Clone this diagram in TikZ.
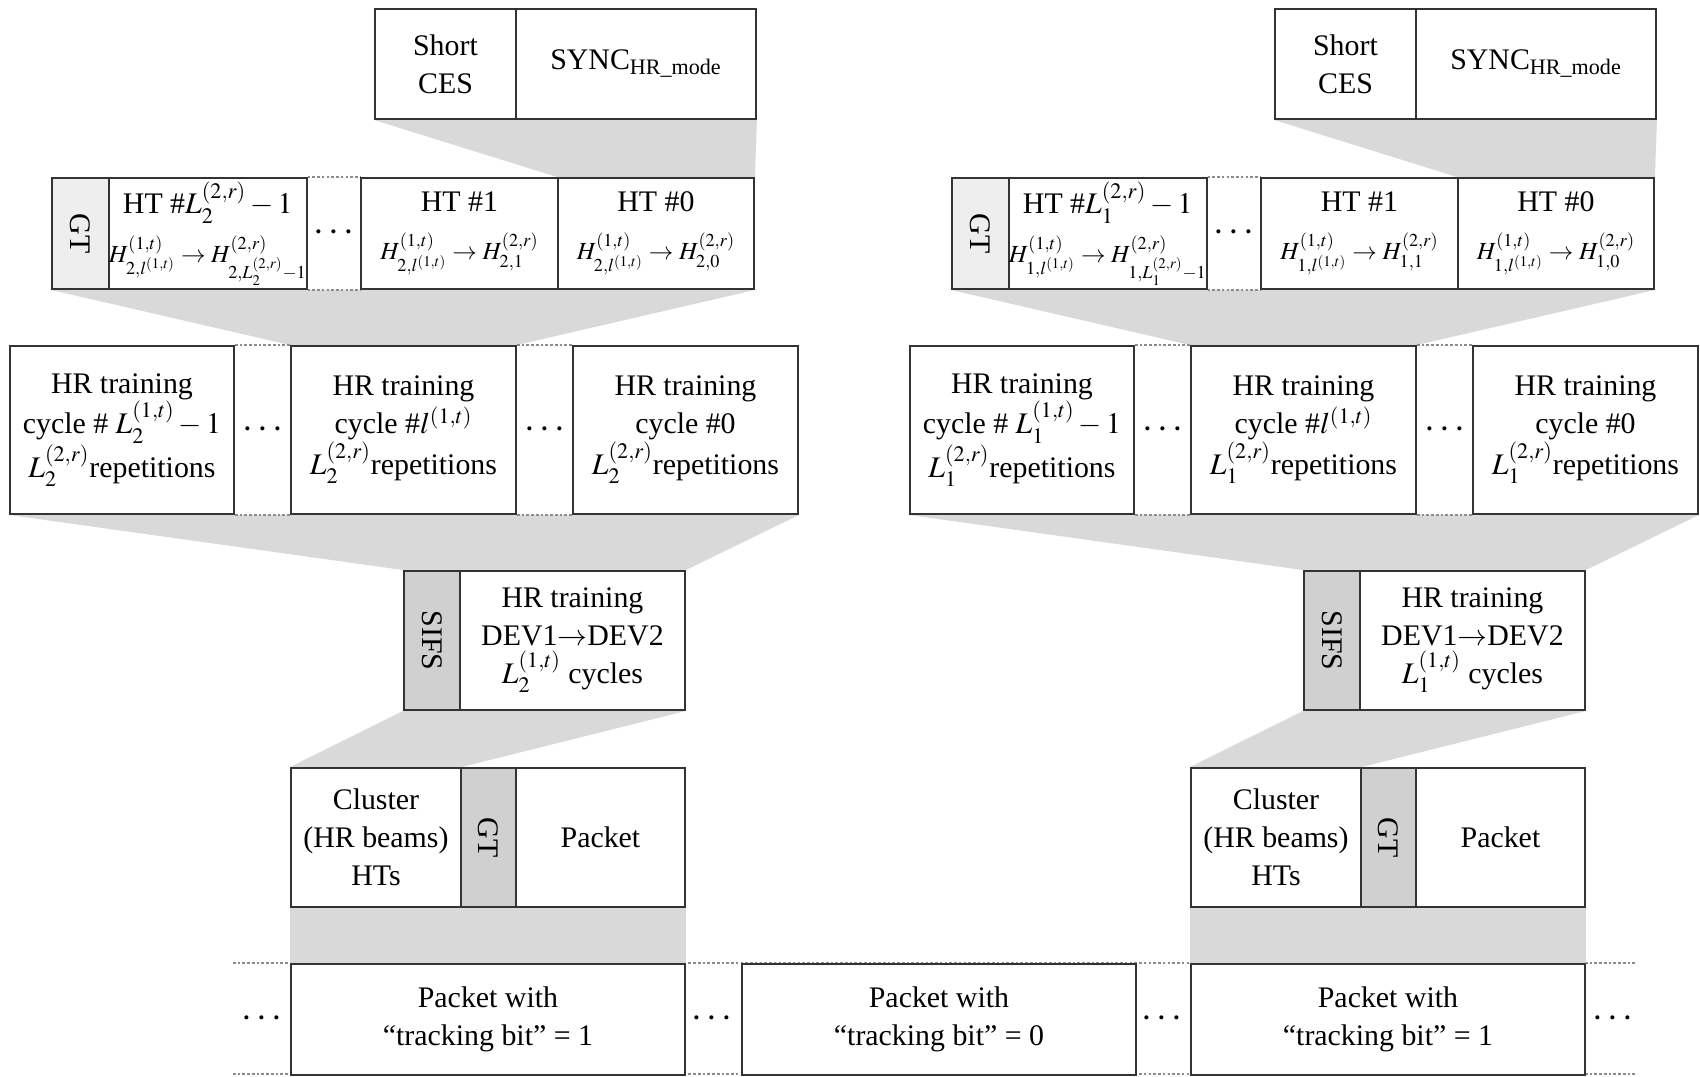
\documentclass[tikz,border=0pt]{standalone}
\usepackage{mathptmx}
\usepackage[no-math]{fontspec}
\setmainfont{Liberation Serif}
\usetikzlibrary{backgrounds, calc}
\definecolor{frameline}{HTML}{333333}
\definecolor{zoomgray}{HTML}{D9D9D9}
\definecolor{gtlight}{HTML}{EEEEEE}
\definecolor{gtdark}{HTML}{D0D0D0}
\definecolor{dotgray}{HTML}{8C8C8C}
\newcommand{\hmap}[1]{{\fontsize{14}{16}\selectfont$#1$}}

\begin{document}
\begin{tikzpicture}[
  x=0.02cm, y=-0.02cm,
  every node/.style={font=\fontsize{17}{21.6}\selectfont},
  cell/.style={draw=frameline, line width=1.1pt, fill=white, inner sep=0pt,
               align=center, anchor=north west, minimum width=#1*0.02cm},
  rowh/.style={minimum height=#1*0.02cm},
  gapline/.style={draw=dotgray, line width=1pt, dash pattern=on 1.5pt off 1.2pt},
  zoom/.style={fill=zoomgray},
  more/.style={font=\fontsize{22}{22}\selectfont\bfseries},
]
\useasboundingbox (0,0) rectangle (1700,1076);

% packet stream
\node[cell=394, rowh=111] (tb2) at (290,963) {Packet with\\“tracking bit” = 1};
\node[cell=394, rowh=111] (tb0) at (741,963) {Packet with\\“tracking bit” = 0};
\node[cell=394, rowh=111] (tb1) at (1190,963) {Packet with\\“tracking bit” = 1};
\coordinate (streamtop) at (233,963);
\coordinate (streamend) at (1637,963);
\coordinate (streambot) at (233,1074);
\coordinate (streamendb) at (1637,1074);
\node[more] (sdots1) at (262,1019) {$\cdots$};
\node[more] (sdots2) at (712,1019) {$\cdots$};
\node[more] (sdots3) at (1162,1019) {$\cdots$};
\node[more] (sdots4) at (1613,1019) {$\cdots$};
\begin{scope}[on background layer]
  \draw[gapline] (streamtop) -- (streamend);
  \draw[gapline] (streambot) -- (streamendb);
\end{scope}

\foreach \dx/\k in {0/2, 900/1} {
  % HT #0 preamble
  \node[cell=141, rowh=110] (sces\k) at (374+\dx,8) {Short\\CES};
  \node[cell=240, rowh=110] (sync\k) at (515+\dx,8) {SYNC\textsubscript{HR\_mode}};
  % HTs of one cycle
  \node[cell=57, rowh=111, fill=gtlight] (gta\k) at (51+\dx,177) {\rotatebox{-90}{GT}};
  \node[cell=197, rowh=111] (htL\k) at (108+\dx,177)
    {HT \#$L_\k^{(2,r)}-1$\\[6pt]\hmap{H^{(1,t)}_{\k,l^{(1,t)}}\to H^{(2,r)}_{\k,L_\k^{(2,r)}-1}}};
  \node[cell=197, rowh=111] (ht1\k) at (360+\dx,177)
    {HT \#1\\[6pt]\hmap{H^{(1,t)}_{\k,l^{(1,t)}}\to H^{(2,r)}_{\k,1}}};
  \node[cell=196, rowh=111] (ht0\k) at (557+\dx,177)
    {HT \#0\\[6pt]\hmap{H^{(1,t)}_{\k,l^{(1,t)}}\to H^{(2,r)}_{\k,0}}};
  \node[more] (htdots\k) at ($(htL\k.east)!0.5!(ht1\k.west)$) {$\cdots$};
  % training cycles
  \node[cell=224, rowh=168] (cyL\k) at (9+\dx,345)
    {HR training\\cycle \# $L_\k^{(1,t)}-1$\\$L_\k^{(2,r)}$repetitions};
  \node[cell=225, rowh=168] (cyl\k) at (290+\dx,345)
    {HR training\\cycle \#$l^{(1,t)}$\\$L_\k^{(2,r)}$repetitions};
  \node[cell=225, rowh=168] (cy0\k) at (572+\dx,345)
    {HR training\\cycle \#0\\$L_\k^{(2,r)}$repetitions};
  \node[more] (cydotsa\k) at ($(cyL\k.east)!0.5!(cyl\k.west)$) {$\cdots$};
  \node[more] (cydotsb\k) at ($(cyl\k.east)!0.5!(cy0\k.west)$) {$\cdots$};
  % HR training
  \node[cell=56, rowh=139, fill=gtdark] (sifs\k) at (403+\dx,570) {\rotatebox{-90}{SIFS}};
  \node[cell=225, rowh=139] (hrt\k) at (459+\dx,570)
    {HR training\\DEV1$\rightarrow$DEV2\\$L_\k^{(1,t)}$ cycles};
  % tracking packet
  \node[cell=170, rowh=139] (clus\k) at (290+\dx,767) {Cluster\\(HR beams)\\HTs};
  \node[cell=55, rowh=139, fill=gtdark] (gtb\k) at (460+\dx,767) {\rotatebox{-90}{GT}};
  \node[cell=169, rowh=139] (pkt\k) at (515+\dx,767) {Packet};

  \begin{scope}[on background layer]
    \fill[zoom] (sces\k.south west) -- (sync\k.south east) -- (ht0\k.north east) -- (ht0\k.north west) -- cycle;
    \fill[zoom] (gta\k.south west) -- (ht0\k.south east) -- (cyl\k.north east) -- (cyl\k.north west) -- cycle;
    \fill[zoom] (cyL\k.south west) -- (cy0\k.south east) -- (hrt\k.north east) -- (sifs\k.north west) -- cycle;
    \fill[zoom] (sifs\k.south west) -- (hrt\k.south east) -- (clus\k.north east) -- (clus\k.north west) -- cycle;
    \fill[zoom] (clus\k.south west) -- (pkt\k.south east) -- (tb\k.north east) -- (tb\k.north west) -- cycle;
    \draw[gapline] (htL\k.north east) -- (ht1\k.north west);
    \draw[gapline] (htL\k.south east) -- (ht1\k.south west);
    \draw[gapline] (cyL\k.north east) -- (cyl\k.north west);
    \draw[gapline] (cyL\k.south east) -- (cyl\k.south west);
    \draw[gapline] (cyl\k.north east) -- (cy0\k.north west);
    \draw[gapline] (cyl\k.south east) -- (cy0\k.south west);
  \end{scope}
}
\end{tikzpicture}
\end{document}
